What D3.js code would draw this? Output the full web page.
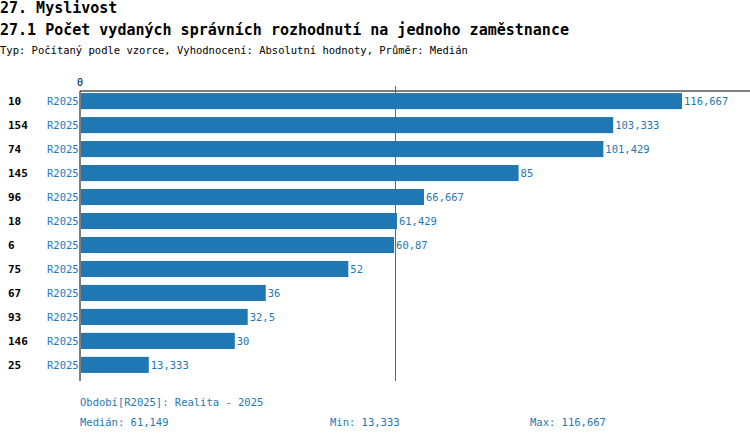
<!DOCTYPE html>
<html><head><meta charset="utf-8">
<script src="https://cdn.jsdelivr.net/npm/d3@7"></script>
<style>body{margin:0;background:#fff}text{font-family:"DejaVu Sans Mono",monospace}</style>
</head><body>
<script>
var ids = ["10","154","74","145","96","18","6","75","67","93","146","25"];
var values = [116.667,103.333,101.429,85,66.667,61.429,60.87,52,36,32.5,30,13.333];
var labels = ["116,667","103,333","101,429","85","66,667","61,429","60,87","52","36","32,5","30","13,333"];
var median = 61.149;
var blue = "#1f77b4";

var svg = d3.select("body").append("svg").attr("width",750).attr("height",440);
var x = d3.scaleLinear().domain([0,116.667]).range([80,682]);
var y = d3.scaleBand().domain(ids).range([89,377]).paddingInner(0.33).paddingOuter(0.17);

svg.append("text").attr("x",0).attr("y",13).attr("font-size",15).attr("font-weight","bold").text("27. Myslivost");
svg.append("text").attr("x",0).attr("y",35).attr("font-size",15).attr("font-weight","bold").text("27.1 Počet vydaných správních rozhodnutí na jednoho zaměstnance");
svg.append("text").attr("x",0).attr("y",54).attr("font-size",10.5).text("Typ: Počítaný podle vzorce, Vyhodnocení: Absolutní hodnoty, Průměr: Medián");

svg.append("text").attr("x",80).attr("y",86).attr("font-size",10).attr("text-anchor","middle").text("0");
svg.append("line").attr("x1",80).attr("x2",750).attr("y1",91).attr("y2",91).attr("stroke","#000");
svg.append("line").attr("x1",80).attr("x2",80).attr("y1",91).attr("y2",381).attr("stroke","#000");
svg.append("line").attr("x1",x(median)).attr("x2",x(median)).attr("y1",86).attr("y2",381).attr("stroke",blue);

var g = svg.selectAll("g.row").data(ids).enter().append("g");
g.append("rect").attr("x",x(0)+1).attr("y",function(d){return y(d);})
  .attr("width",function(d,i){return x(values[i])-x(0)-1;}).attr("height",y.bandwidth()).attr("fill",blue);
g.append("text").attr("x",8).attr("y",function(d){return y(d)+y.bandwidth()/2+4;})
  .attr("font-size",11).attr("font-weight","bold").text(function(d){return d;});
g.append("text").attr("x",47).attr("y",function(d){return y(d)+y.bandwidth()/2+4;})
  .attr("font-size",10.5).attr("fill",blue).text("R2025");
g.append("text").attr("x",function(d,i){return x(values[i])+2;}).attr("y",function(d){return y(d)+y.bandwidth()/2+4;})
  .attr("font-size",10.5).attr("fill",blue).text(function(d,i){return labels[i];});

svg.append("text").attr("x",80).attr("y",406).attr("font-size",10.5).attr("fill",blue).text("Období[R2025]: Realita - 2025");
svg.append("text").attr("x",80).attr("y",426).attr("font-size",10.5).attr("fill",blue).text("Medián: 61,149");
svg.append("text").attr("x",330).attr("y",426).attr("font-size",10.5).attr("fill",blue).text("Min: 13,333");
svg.append("text").attr("x",530).attr("y",426).attr("font-size",10.5).attr("fill",blue).text("Max: 116,667");
</script>
</body></html>
